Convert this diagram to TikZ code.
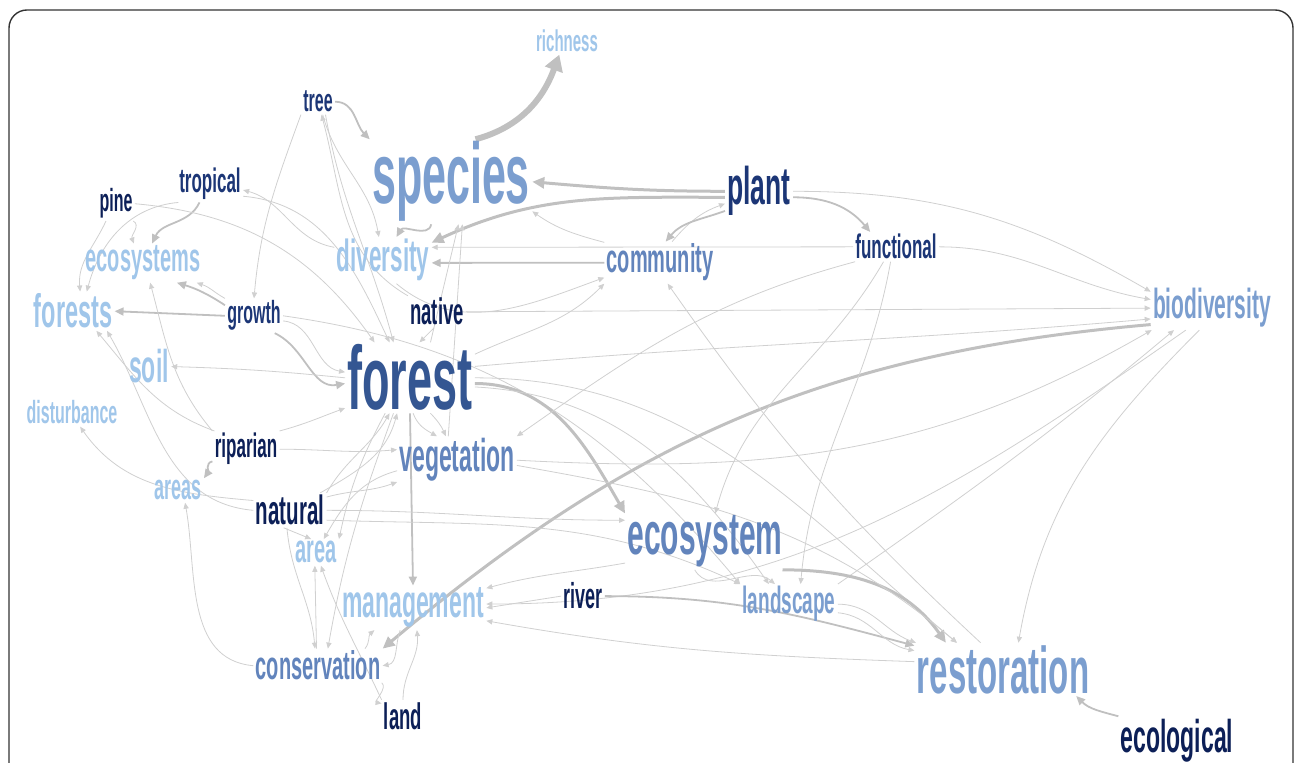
\documentclass[tikz,border=0pt]{standalone}
\usepackage{fontspec}
\usepackage{xcolor}
\usetikzlibrary{arrows.meta,backgrounds}
\newfontfamily\wordfont{Liberation Sans}[FakeStretch=0.5]
\definecolor{navyA}{RGB}{12,31,87}
\definecolor{navyB}{RGB}{28,54,118}
\definecolor{blueF}{RGB}{52,86,146}
\definecolor{blueM}{RGB}{98,132,188}
\definecolor{blueS}{RGB}{123,158,207}
\definecolor{blueP}{RGB}{160,198,234}
\definecolor{linkT}{RGB}{208,208,208}
\definecolor{linkM}{RGB}{192,192,192}

\begin{document}
\begin{tikzpicture}[x=0.5pt,y=0.5pt]
\tikzset{
	term/.style = {font=\wordfont\bfseries\fontsize{#1}{#1}\selectfont, inner sep=1pt, anchor=base},
	tdark/.style = {text=navyA},
	tnavy/.style = {text=navyB},
	tforest/.style = {text=blueF},
	tmid/.style = {text=blueM},
	tsoft/.style = {text=blueS},
	tpale/.style = {text=blueP},
	lnk/.style = {draw=linkT, line width=0.4pt, -{Triangle[length=3pt,width=2.6pt]}},
	lnkm/.style = {draw=linkM, line width=0.9pt, -{Triangle[length=4.5pt,width=4pt]}},
	lnkh/.style = {draw=linkM, line width=1.5pt, -{Triangle[length=6pt,width=5.5pt]}},
	lnkw/.style = {draw=linkM, line width=3pt, -{Triangle[length=8pt,width=9pt]}}
}
\useasboundingbox (0,0) rectangle (1295,-763);
\draw [rounded corners=9, line width=0.7pt, draw=black!80] (9,-10) rectangle (1293,-790);

% words
\node (richness) [term=15, tpale] at (567,-52) {richness};
\node (tree) [term=16, tnavy] at (318,-112) {tree};
\node (species) [term=43, tsoft] at (451,-204) {species};
\node (plant) [term=26.5, tnavy] at (759,-205) {plant};
\node (pine) [term=16, tdark] at (116,-212) {pine};
\node (tropical) [term=17, tnavy] at (210,-193) {tropical};
\node (ecosystems) [term=20, tpale] at (143,-272) {ecosystems};
\node (diversity) [term=22.5, tpale] at (383,-272) {diversity};
\node (community) [term=20, tmid] at (660,-273) {community};
\node (functional) [term=17, tnavy] at (896,-259) {functional};
\node (biodiversity) [term=21, tsoft] at (1212,-319) {biodiversity};
\node (forests) [term=23.5, tpale] at (73,-328) {forests};
\node (growth) [term=16, tnavy] at (254,-324) {growth};
\node (native) [term=18.5, tdark] at (437,-325) {native};
\node (forest) [term=45, tforest] at (410,-410) {forest};
\node (soil) [term=23, tpale] at (149,-383) {soil};
\node (disturbance) [term=16, tpale] at (72,-424) {disturbance};
\node (riparian) [term=17, tdark] at (246,-458) {riparian};
\node (vegetation) [term=23, tmid] at (457,-472) {vegetation};
\node (areas) [term=18, tpale] at (178,-500) {areas};
\node (natural) [term=20.5, tdark] at (290,-525) {natural};
\node (area) [term=20, tpale] at (316,-563) {area};
\node (ecosystem) [term=30, tmid] at (705,-555) {ecosystem};
\node (river) [term=18, tdark] at (583,-609) {river};
\node (management) [term=23, tpale] at (413,-618) {management};
\node (landscape) [term=19, tsoft] at (789,-614) {landscape};
\node (conservation) [term=20, tmid] at (318,-680) {conservation};
\node (restoration) [term=33, tsoft] at (1003,-693) {restoration};
\node (land) [term=18.5, tdark] at (403,-729) {land};
\node (ecological) [term=23, tdark] at (1177,-752) {ecological};

% links
\begin{scope}[on background layer]
\draw [lnkw] (species.60) to[out=15, in=-110] (richness.-120);
\draw [lnkm] (tree.east) to[out=0, in=135] (species.north west);
\draw [lnk] (tree.-70) to[out=-75, in=100] (diversity.100);
\draw [lnk] (native.north west) to[out=150, in=-75] (tree.-75);
\draw [lnk] (tree.south west) to[out=-110, in=85] (growth.north);
\draw [lnk] (tree.-60) to[out=-80, in=105] (forest.115);

\draw [lnkm] (tropical.-120) to[out=-115, in=65] (ecosystems.65);
\draw [lnk] (tropical.-150) to[out=185, in=75] (forests.55);
\draw [lnk] (tropical.-20) to[out=-5, in=115] (forest.120);
\draw [lnk] (diversity.165) to[out=170, in=-15] (tropical.-10);
\draw [lnk] (pine.-120) to[out=-115, in=95] (forests.70);
\draw [lnk] (pine.-45) to[out=-30, in=110] (ecosystems.115);
\draw [lnk] (pine.east) to[out=-5, in=125] (forest.135);

\draw [lnkm] (growth.west) -- (forests.east);
\draw [lnkm] (growth.160) to[bend right=8] (ecosystems.-30);
\draw [lnk] (growth.north west) to[out=150, in=-20, looseness=1.2] (ecosystems.-20);
\draw [lnkm] (growth.-40) to[out=-25, in=190] (forest.-175);
\draw [lnk] (growth.-10) to[out=-5, in=170] (forest.175);
\draw [lnk] (growth.east) to[out=-8, in=130] (landscape.north west);

\draw [lnkh] (forest.-5) to[out=0, in=120] (ecosystem.north west);
\draw [lnk] (forest.-8) to[out=-3, in=125] (landscape.135);
\draw [lnk] (forest.east) to[out=0, in=140] (restoration.150);
\draw [lnkm] (forest.south) -- (management.north);
\draw [lnk] (forest.west) to[bend right=2] (soil.east);
\draw [lnk] (forest.10) to[out=5, in=185] (biodiversity.-170);
\draw [lnk] (native.east) -- (biodiversity.west);
\draw [lnkh] (biodiversity.-165) to[out=185, in=40] (conservation.north east);

\draw [lnkh] (plant.west) to[out=180, in=-5] (species.east);
\draw [lnkh] (plant.-170) to[out=180, in=25] (diversity.20);
\draw [lnkm] (community.west) -- (diversity.-3);
\draw [lnk] (community.60) to[out=50, in=200] (plant.-160);
\draw [lnkm] (plant.-150) to[out=200, in=50] (community.75);
\draw [lnkm] (plant.-10) to[out=0, in=130] (functional.150);
\draw [lnk] (plant.east) to[out=0, in=150] (biodiversity.165);
\draw [lnk] (functional.east) to[out=0, in=170] (biodiversity.172);
\draw [lnk] (functional.west) -- (diversity.15);
\draw [lnk] (diversity.-60) to[out=-40, in=200] (community.-165);
\draw [lnk] (forest.60) -- (species.-80);
\draw [lnk] (vegetation.110) -- (species.-75);
\draw [lnkm] (species.-115) to[out=-100, in=60] (diversity.60);
\draw [lnk] (forest.20) to[out=25, in=225] (community.south west);
\draw [lnk] (restoration.130) to[bend left=6] (community.-70);
\draw [lnk] (community.160) to[out=165, in=-35] (species.-20);

\draw [lnk] (functional.-130) to[out=-120, in=75] (ecosystem.70);
\draw [lnk] (functional.-110) to[out=-100, in=85] (landscape.60);
\draw [lnk] (functional.-160) to[out=195, in=35] (vegetation.north east);
\draw [lnk] (vegetation.east) to[out=-3, in=210] (biodiversity.-160);
\draw [lnk] (landscape.north east) to[out=35, in=220] (biodiversity.-150);
\draw [lnk] (biodiversity.-140) to[out=215, in=0] (management.3);
\draw [lnk] (biodiversity.-120) to[out=225, in=80] (restoration.60);

\draw [lnk] (natural.east) to[out=0, in=180] (ecosystem.165);
\draw [lnk] (natural.-15) to[out=-2, in=155] (landscape.north west);
\draw [lnk] (riparian.east) to[out=0, in=185] (vegetation.170);
\draw [lnk] (riparian.north east) to[out=15, in=200] (forest.-155);
\draw [lnk] (riparian.150) to[out=160, in=-50] (forests.-40);
\draw [lnk] (natural.west) to[out=175, in=-60] (forests.-30);
\draw [lnkm] (riparian.-160) to[out=190, in=55] (areas.north east);
\draw [lnk] (riparian.north west) to[out=130, in=-75] (ecosystems.-70);
\draw [lnk] (natural.north east) to[out=60, in=-120] (forest.-120);
\draw [lnk] (natural.30) to[out=30, in=-105] (forest.-110);
\draw [lnk] (natural.20) to[out=15, in=200] (vegetation.-160);
\draw [lnk] (natural.-110) -- (area.110);
\draw [lnk] (forest.-125) to[bend right=8] (area.north east);
\draw [lnk] (vegetation.-170) to[out=195, in=60] (area.60);
\draw [lnk] (natural.-100) to[out=-85, in=95] (conservation.100);
\draw [lnk] (forest.-115) to[out=-110, in=80] (conservation.60);
\draw [lnk] (conservation.95) -- (area.-95);
\draw [lnk] (land.north west) to[out=115, in=-70] (area.-70);
\draw [lnk] (conservation.west) to[out=175, in=-80] (areas.-60);
\draw [lnk] (natural.165) to[out=175, in=-55] (disturbance.-60);
\draw [lnk] (land.north) to[out=90, in=-85] (management.-80);
\draw [lnk] (conservation.-15) to[out=-40, in=170] (land.150);
\draw [lnk] (conservation.20) to[out=50, in=-140] (management.-150);
\draw [lnk] (management.-120) to[out=-110, in=10] (conservation.east);

\draw [lnkm] (river.east) to[out=0, in=165] (restoration.165);
\draw [lnk] (river.west) -- (management.east);
\draw [lnk] (restoration.175) to[out=178, in=-10] (management.-10);
\draw [lnk] (ecosystem.-165) to[out=190, in=15] (management.15);
\draw [lnkh] (ecosystem.-20) to[out=0, in=125] (restoration.155);
\draw [lnk] (landscape.east) to[out=0, in=160] (restoration.163);
\draw [lnk] (landscape.-10) to[out=-5, in=170] (restoration.168);
\draw [lnk] (ecosystem.-110) to[out=-60, in=140] (landscape.125);
\draw [lnk] (vegetation.-5) to[out=-10, in=140] (restoration.150);
\draw [lnkm] (ecological.north west) to[out=165, in=-45] (restoration.-20);
\draw [lnk] (native.-100) -- (forest.75);
\draw [lnk] (forest.-60) to[bend left=10] (vegetation.115);
\draw [lnk] (forest.-85) to[out=-70, in=150] (vegetation.130);
\end{scope}
\end{tikzpicture}
\end{document}
